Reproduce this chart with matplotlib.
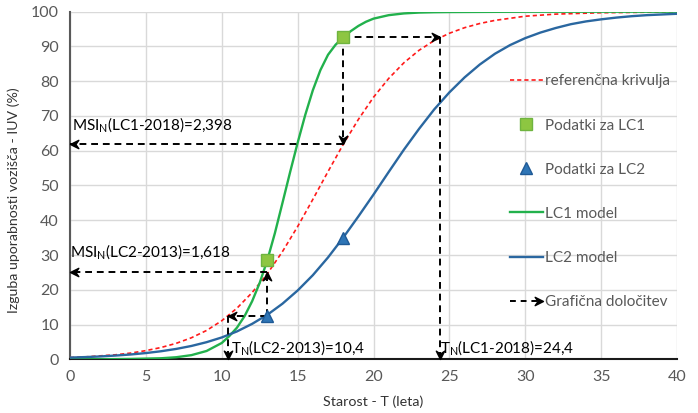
import numpy as np
import matplotlib
matplotlib.use("Agg")
import matplotlib.pyplot as plt
from matplotlib.lines import Line2D
from matplotlib.markers import MarkerStyle
from matplotlib.path import Path
from matplotlib.transforms import Affine2D
from matplotlib.legend_handler import HandlerBase

plt.rcParams['font.family'] = ['Lato', 'DejaVu Sans']
plt.rcParams['mathtext.default'] = 'regular'

# referencna krivulja
ref_x = [0, 1, 2, 3, 4, 5, 6, 7, 8, 9, 10, 11, 12, 13, 14, 15, 16, 17, 18, 19, 20,
         21, 22, 23, 24, 25, 26, 27, 28, 30, 32, 35, 40]
ref_y = [0.5, 0.7, 1.0, 1.3, 1.8, 2.5, 3.4, 4.6, 6.2, 8.3, 11.1, 14.7, 19.2, 24.6, 31.0,
         38.2, 46.0, 54.0, 61.8, 69.0, 75.4, 80.8, 85.3, 88.9, 91.7, 93.8, 95.4, 96.6,
         97.5, 98.7, 99.3, 99.7, 99.95]

# LC1 model
lc1_x = [0, 2, 4, 5, 6, 7, 8, 9, 10, 10.5, 11, 11.5, 12, 12.5, 13, 13.5, 14, 14.5, 15,
         15.5, 16, 16.5, 17, 17.5, 18, 18.5, 19, 19.5, 20, 21, 22, 23, 24, 25, 30, 40]
lc1_y = [0.0, 0.0, 0.1, 0.2, 0.3, 0.6, 1.2, 2.4, 4.7, 6.7, 9.1, 12.4, 16.7, 22.0, 28.5,
         36.3, 45.0, 53.8, 62.3, 70.3, 77.4, 83.2, 87.6, 90.5, 92.6, 94.4, 95.9, 97.1,
         98.0, 99.0, 99.5, 99.75, 99.85, 99.9, 100.0, 100.0]

# LC2 model
lc2_x = list(range(0, 41))
lc2_y = [0.5, 0.64, 0.83, 1.08, 1.39, 1.8, 2.32, 2.99, 3.84, 4.93, 6.29, 8.02, 10.2,
         12.8, 16.0, 19.8, 24.2, 29.3, 35.0, 41.1, 47.4, 53.9, 60.3, 66.3, 71.9, 76.8,
         81.1, 84.8, 87.9, 90.4, 92.4, 94.0, 95.3, 96.4, 97.2, 97.8, 98.3, 98.7, 99.0,
         99.2, 99.4]

# measured points
lc1_pts_x = [13, 18]
lc1_pts_y = [28.5, 92.6]
lc2_pts_x = [13, 18]
lc2_pts_y = [12.5, 35.0]

# graphical determination (start -> end of each arrow)
arrows = [
    ((18, 92.6), (24.4, 92.6)),
    ((24.4, 92.6), (24.4, 0)),
    ((18, 92.6), (18, 62)),
    ((18, 62), (0, 62)),
    ((13, 12.5), (10.4, 12.5)),
    ((10.4, 12.5), (10.4, 0)),
    ((13, 12.5), (13, 25)),
    ((13, 25), (0, 25)),
]

labels = [
    (0.15, 67.5, 'MSI$_{N}$(LC1-2018)=2,398'),
    (0.0, 31.0, 'MSI$_{N}$(LC2-2013)=1,618'),
    (10.6, 3.5, 'T$_{N}$(LC2-2013)=10,4'),
    (24.4, 3.5, 'T$_{N}$(LC1-2018)=24,4'),
]

stealth = Path([(0, 0), (-1, 0.5), (-0.65, 0), (-1, -0.5), (0, 0)],
               [Path.MOVETO, Path.LINETO, Path.LINETO, Path.LINETO, Path.CLOSEPOLY])


def arrow_marker(angle):
    return MarkerStyle(stealth, transform=Affine2D().rotate_deg(angle))


class HandlerArrow(HandlerBase):
    def create_artists(self, legend, orig_handle, xdescent, ydescent, width, height,
                       fontsize, trans):
        y = height / 2 - ydescent
        x0 = -xdescent
        x1 = width - xdescent
        line = Line2D([x0, x1 - 4], [y, y], color='black', linestyle=(0, (3, 2.5)),
                      lw=1.4, transform=trans)
        head = Line2D([x1], [y], marker=arrow_marker(0), markersize=12, color='black',
                      linestyle='none', transform=trans)
        return [line, head]


fig = plt.figure(figsize=(6.98, 4.13), dpi=100)
ax = fig.add_axes([0.1003, 0.130, 0.8697, 0.8417])

green = '#22b14c'
blue = '#2a67a0'

ax.plot(ref_x, ref_y, color='#ff1a1a', lw=1.2, linestyle=(0, (2.5, 1.8)), zorder=3)
ax.plot(lc1_x, lc1_y, color=green, lw=1.7, zorder=3)
ax.plot(lc2_x, lc2_y, color=blue, lw=1.7, zorder=3)

for (x0, y0), (x1, y1) in arrows:
    ax.plot([x0, x1], [y0, y1], color='black', lw=1.4, linestyle=(0, (3.5, 2.5)), zorder=4)
    ang = 0 if x1 > x0 else 180 if x1 < x0 else 90 if y1 > y0 else -90
    ax.plot([x1], [y1], marker=arrow_marker(ang), markersize=12, color='black',
            linestyle='none', zorder=5, clip_on=False)

ax.plot(lc1_pts_x, lc1_pts_y, linestyle='none', marker='s', markersize=9,
        markerfacecolor='#8dc641', markeredgecolor='#6fb43f', zorder=6)
ax.plot(lc2_pts_x, lc2_pts_y, linestyle='none', marker='^', markersize=9,
        markerfacecolor='#2e75b6', markeredgecolor='#1f5a96', zorder=6)

for x, y, t in labels:
    ax.text(x, y, t, fontsize=11, color='black', va='center', ha='left', zorder=7)

ax.set_xlim(0, 40)
ax.set_ylim(0, 100)
ax.set_xticks(np.arange(0, 41, 5))
ax.set_yticks(np.arange(0, 101, 10))
ax.grid(True, color='#d9d9d9', lw=1.0)
ax.set_axisbelow(True)
ax.tick_params(length=0, labelsize=11.5, labelcolor='#595959', pad=8)
for s in ['top', 'right']:
    ax.spines[s].set_visible(False)
ax.spines['left'].set_color('#595959')
ax.spines['left'].set_linewidth(1.5)
ax.spines['bottom'].set_color('#1a1a1a')
ax.spines['bottom'].set_linewidth(1.5)
ax.set_xlabel('Starost - T (leta)', fontsize=10.3, color='#333333')
ax.set_ylabel('Izguba uporabnosti vozišča - IUV (%)', fontsize=10.2, color='#333333')
ax.xaxis.set_label_coords(0.5, -0.103)
ax.yaxis.set_label_coords(-0.082, 0.458)

h_ref = Line2D([], [], color='#ff1a1a', lw=1.2, linestyle=(0, (2.5, 1.8)))
h_p1 = Line2D([], [], linestyle='none', marker='s', markersize=9,
              markerfacecolor='#8dc641', markeredgecolor='#6fb43f')
h_p2 = Line2D([], [], linestyle='none', marker='^', markersize=9,
              markerfacecolor='#2e75b6', markeredgecolor='#1f5a96')
h_l1 = Line2D([], [], color=green, lw=1.7)
h_l2 = Line2D([], [], color=blue, lw=1.7)
h_ar = object()

leg = ax.legend([h_ref, h_p1, h_p2, h_l1, h_l2, h_ar],
                ['referenčna krivulja', 'Podatki za LC1', 'Podatki za LC2',
                 'LC1 model', 'LC2 model', 'Grafična določitev'],
                handler_map={h_ar: HandlerArrow()},
                loc='upper left', bbox_to_anchor=(0.714, 0.837), frameon=False,
                fontsize=11, labelspacing=1.97, handlelength=2.2, handletextpad=0.1,
                numpoints=1, borderaxespad=0)
for t in leg.get_texts():
    t.set_color('#595959')

fig.savefig('out.png', dpi=100)
